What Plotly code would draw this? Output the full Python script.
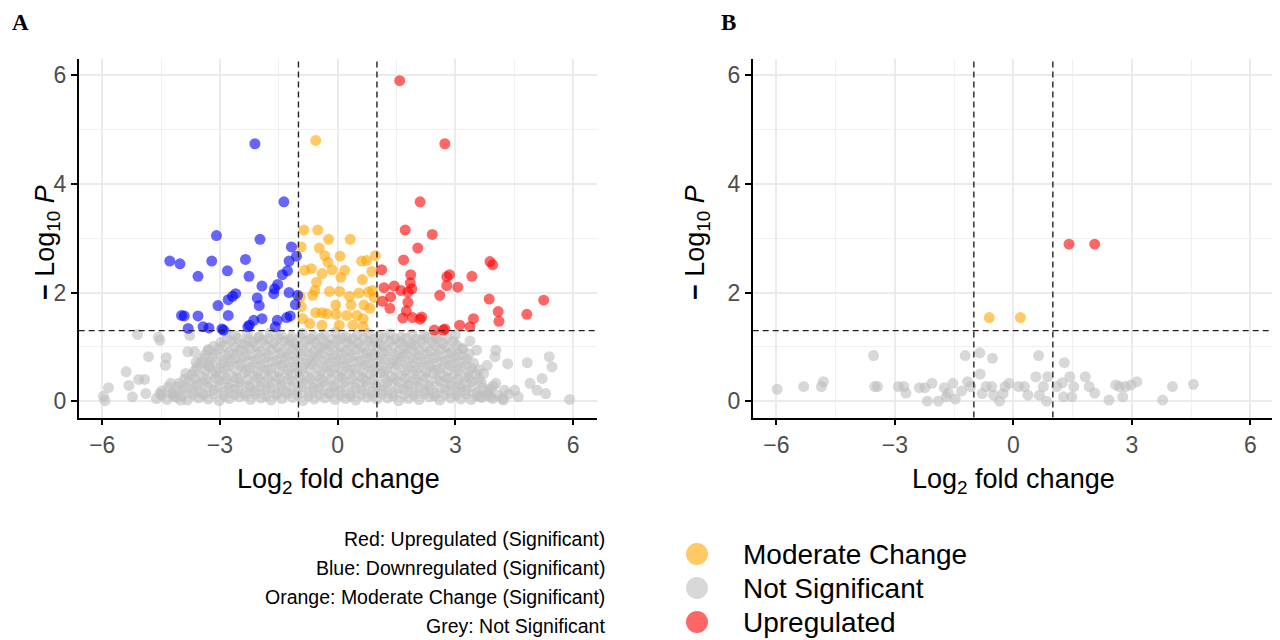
import plotly.graph_objects as go

# ---------------- Panel A data ----------------
a_up_x = [1.58, 2.73, 2.10, 1.72, 2.41, 2.04, 1.68, 1.12, 1.86, 2.85, 2.78, 3.42, 3.88, 3.95,
          1.18, 1.44, 1.61, 1.79, 1.89, 1.85, 2.78, 3.06, 2.60, 1.35, 1.14, 1.33, 1.79, 1.75,
          1.66, 1.91, 2.14, 2.10, 3.86, 5.25, 4.09, 4.11, 4.82, 3.46, 3.37, 3.11, 2.46, 2.73, 2.69]
a_up_y = [5.90, 4.74, 3.67, 3.15, 3.07, 2.82, 2.60, 2.42, 2.33, 2.33, 2.29, 2.30, 2.57, 2.51,
          2.09, 2.12, 2.04, 2.01, 2.07, 2.18, 2.13, 2.10, 1.95, 1.92, 1.84, 1.71, 1.82, 1.66,
          1.53, 1.54, 1.55, 1.51, 1.88, 1.86, 1.65, 1.47, 1.60, 1.52, 1.37, 1.40, 1.31, 1.33, 1.31]

a_down_x = [-2.11, -1.37, -3.09, -1.98, -4.28, -4.02, -3.21, -2.35, -3.56, -2.81, -2.26, -1.18,
            -1.05, -1.24, -1.28, -1.41, -1.53, -1.93, -1.61, -1.63, -2.60, -2.68, -2.79, -2.05,
            -2.00, -1.24, -1.02, -1.08, -3.05, -3.98, -3.91, -3.56, -2.79, -1.21, -1.30, -1.54,
            -1.93, -2.14, -2.25, -3.81, -3.43, -3.28, -2.95, -2.91, -2.29, -1.59]
a_down_y = [4.74, 3.67, 3.05, 2.98, 2.58, 2.53, 2.58, 2.61, 2.30, 2.40, 2.30, 2.84,
            2.67, 2.58, 2.40, 2.33, 2.15, 2.12, 2.07, 1.98, 1.98, 1.93, 1.87, 1.90,
            1.76, 2.00, 1.95, 1.78, 1.76, 1.58, 1.57, 1.57, 1.58, 1.57, 1.54, 1.49,
            1.52, 1.49, 1.40, 1.34, 1.37, 1.35, 1.33, 1.31, 1.37, 1.37]

a_mod_x = [-0.56, -0.86, -0.51, -0.23, 0.32, -0.93, -0.47, 0.06, -0.33, -0.25, 0.61, 0.74, 0.96,
           -0.84, -0.67, -0.40, -0.14, 0.18, 0.87, -0.54, 0.08, 0.63, -0.21, 0.05, -0.58, -0.95,
           -0.64, 0.54, 0.78, 0.89, 0.93, 0.30, -0.05, 0.34, 0.67, -0.93, -0.56, -0.40, -0.27,
           -0.04, 0.23, 0.49, 0.82, -0.89, 0.65, -0.71, 0.04, 0.39, 0.65, -0.40]
a_mod_y = [4.80, 3.15, 3.15, 2.98, 2.98, 2.84, 2.82, 2.67, 2.68, 2.56, 2.58, 2.59, 2.68,
           2.41, 2.44, 2.35, 2.42, 2.41, 2.39, 2.19, 2.28, 2.24, 2.02, 2.02, 2.04, 1.92,
           1.95, 1.99, 2.01, 2.04, 1.91, 1.93, 1.77, 1.77, 1.77, 1.74, 1.63, 1.63, 1.61,
           1.60, 1.58, 1.58, 1.71, 1.52, 1.52, 1.43, 1.40, 1.40, 1.37, 1.40]

a_ns_x = [
    -4.62, -4.35, -4.10, -3.83, -3.55, -3.30, -3.02, -2.76, -2.50, -2.22, -1.95, -1.70, -1.42,
    -1.15, -0.88, -0.60, -0.33, -0.07, 0.20, 0.46, 0.74, 1.00, 1.27, 1.55, 1.80, 2.07, 2.34,
    2.60, 2.88, 3.14, 3.40, 3.68, 3.95, 4.22,
    -4.49, -4.22, -3.96, -3.69, -3.42, -3.16, -2.89, -2.63, -2.36, -2.09, -1.83, -1.56, -1.29,
    -1.02, -0.74, -0.47, -0.20, 0.07, 0.33, 0.60, 0.87, 1.14, 1.41, 1.68, 1.94, 2.21, 2.47,
    2.74, 3.01, 3.27, 3.54, 3.81, 4.08, 4.35,
    -4.48, -4.20, -3.95, -3.70, -3.44, -3.16, -2.90, -2.63, -2.36, -2.10, -1.83, -1.56, -1.30,
    -1.02, -0.75, -0.48, -0.21, 0.06, 0.33, 0.60, 0.87, 1.14, 1.41, 1.68, 1.94, 2.21, 2.48,
    2.75, 3.02, 3.28, 3.55, 3.82,
    -4.32, -4.07, -3.82, -3.56, -3.30, -3.03, -2.77, -2.50, -2.23, -1.96, -1.70, -1.43, -1.16,
    -0.89, -0.62, -0.35, -0.08, 0.19, 0.46, 0.73, 1.00, 1.27, 1.54, 1.81, 2.08, 2.35, 2.61,
    2.88, 3.15, 3.42, 3.69, 3.96,
    -4.05, -3.80, -3.57, -3.30, -3.03, -2.77, -2.50, -2.24, -1.97, -1.70, -1.44, -1.16, -0.90,
    -0.62, -0.36, -0.10, 0.17, 0.44, 0.71, 0.98, 1.25, 1.52, 1.79, 2.05, 2.32, 2.60, 2.86,
    3.13, 3.40, 3.66,
    -3.90, -3.64, -3.37, -3.10, -2.84, -2.57, -2.30, -2.04, -1.77, -1.50, -1.24, -0.97, -0.70,
    -0.43, -0.17, 0.10, 0.37, 0.64, 0.91, 1.18, 1.45, 1.72, 1.98, 2.25, 2.52, 2.79, 3.06,
    3.33, 3.60,
    -3.72, -3.45, -3.18, -2.92, -2.65, -2.38, -2.12, -1.85, -1.58, -1.32, -1.05, -0.78, -0.51,
    -0.24, 0.03, 0.30, 0.57, 0.84, 1.10, 1.37, 1.64, 1.91, 2.18, 2.44, 2.71, 2.98, 3.25, 3.52,
    -3.65, -3.38, -3.11, -2.85, -2.58, -2.31, -2.05, -1.78, -1.51, -1.25, -0.98, -0.71, -0.44,
    -0.17, 0.10, 0.37, 0.64, 0.91, 1.18, 1.45, 1.72, 1.99, 2.26, 2.53, 2.80, 3.07, 3.34, 3.60,
    -3.58, -3.30, -3.04, -2.78, -2.50, -2.24, -1.97, -1.70, -1.43, -1.17, -0.90, -0.63, -0.36,
    -0.09, 0.18, 0.45, 0.72, 0.98, 1.25, 1.52, 1.79, 2.06, 2.33, 2.60, 2.86, 3.13, 3.40,
    -3.50, -3.24, -2.97, -2.71, -2.44, -2.17, -1.90, -1.64, -1.37, -1.10, -0.83, -0.56, -0.29,
    -0.02, 0.25, 0.52, 0.79, 1.06, 1.33, 1.60, 1.86, 2.13, 2.40, 2.67, 2.94, 3.20, 3.46,
    -3.45, -3.18, -2.90, -2.63, -2.37, -2.10, -1.83, -1.56, -1.30, -1.03, -0.76, -0.49, -0.22,
    0.05, 0.32, 0.59, 0.86, 1.13, 1.40, 1.67, 1.93, 2.20, 2.47, 2.74, 3.01, 3.28,
    -3.38, -3.10, -2.83, -2.56, -2.30, -2.03, -1.76, -1.49, -1.22, -0.95, -0.68, -0.41, -0.14,
    0.13, 0.40, 0.67, 0.94, 1.20, 1.47, 1.74, 2.01, 2.28, 2.55, 2.82, 3.09, 3.35,
    -3.30, -3.03, -2.76, -2.50, -2.23, -1.96, -1.69, -1.42, -1.15, -0.88, -0.61, -0.34, -0.07,
    0.20, 0.47, 0.74, 1.00, 1.27, 1.54, 1.81, 2.08, 2.35, 2.62, 2.89, 3.16,
    -3.16, -2.90, -2.63, -2.36, -2.09, -1.82, -1.55, -1.28, -1.02, -0.75, -0.48, -0.21, 0.06,
    0.33, 0.60, 0.87, 1.14, 1.41, 1.68, 1.95, 2.22, 2.48, 2.75, 3.03,
    -2.98, -2.70, -2.43, -2.16, -1.90, -1.63, -1.36, -1.09, -0.82, -0.55, -0.28, -0.01, 0.26,
    0.53, 0.80, 1.07, 1.34, 1.60, 1.87, 2.14, 2.41, 2.68, 2.95,
    -2.82, -2.55, -2.28, -2.02, -1.76, -1.50, -1.22, -0.95, -0.68, -0.42, -0.15, 0.12, 0.39,
    0.66, 0.93, 1.20, 1.47, 1.74, 2.00, 2.28, 2.55, 2.80,
    -2.62, -2.30, -2.00, -1.72, -1.45, -1.18, -0.90, -0.62, -0.35, -0.06, 0.22, 0.50, 0.78,
    1.05, 1.33, 1.62, 1.90, 2.20, 2.50,
    -5.97, -5.93, -5.84, -5.39, -5.32, -5.23, -5.07, -4.92, -4.89, -4.82, -4.53, -4.39, -4.37,
    -4.53, -4.57, -5.10, -4.26, -4.18, -4.00, -3.87, -3.82, -3.77, -3.65, -3.61, -3.30, -3.28,
    3.37, 4.03, 4.01, 4.33, 4.03, 4.25, 4.51, 4.60, 4.83, 4.90, 5.08, 5.21, 5.30, 5.39, 5.46,
    5.91, 3.89, 3.81, 3.72, 3.63, 4.20, 3.54, 3.89, 3.19, -2.85, 3.00]
a_ns_y = [
    0.05, 0.03, 0.07, 0.02, 0.06, 0.04, 0.01, 0.05, 0.08, 0.03, 0.06, 0.02, 0.05,
    0.07, 0.01, 0.04, 0.06, 0.03, 0.05, 0.02, 0.07, 0.04, 0.06, 0.01, 0.05, 0.03, 0.08,
    0.02, 0.06, 0.04, 0.03, 0.07, 0.05, 0.02,
    0.11, 0.13, 0.10, 0.12, 0.11, 0.13, 0.10, 0.12, 0.11, 0.13, 0.10, 0.12, 0.13,
    0.11, 0.10, 0.12, 0.13, 0.11, 0.10, 0.12, 0.11, 0.13, 0.10, 0.12, 0.11, 0.13, 0.10,
    0.12, 0.11, 0.13, 0.10, 0.12, 0.11, 0.13,
    0.19, 0.16, 0.21, 0.18, 0.15, 0.20, 0.17, 0.22, 0.16, 0.19, 0.21, 0.15, 0.18,
    0.20, 0.17, 0.22, 0.16, 0.19, 0.15, 0.21, 0.18, 0.20, 0.16, 0.22, 0.17, 0.19, 0.15,
    0.21, 0.18, 0.20, 0.16, 0.19,
    0.26, 0.27, 0.25, 0.28, 0.26, 0.27, 0.25, 0.28, 0.26, 0.27, 0.25, 0.28, 0.26,
    0.27, 0.25, 0.28, 0.26, 0.27, 0.25, 0.28, 0.26, 0.27, 0.25, 0.28, 0.26, 0.27, 0.25,
    0.28, 0.26, 0.27, 0.25, 0.28,
    0.33, 0.36, 0.31, 0.34, 0.37, 0.32, 0.35, 0.30, 0.36, 0.33, 0.31, 0.37, 0.34,
    0.32, 0.36, 0.30, 0.35, 0.33, 0.37, 0.31, 0.34, 0.36, 0.32, 0.35, 0.30, 0.37, 0.33,
    0.31, 0.36, 0.34,
    0.41, 0.42, 0.40, 0.43, 0.41, 0.42, 0.40, 0.43, 0.41, 0.42, 0.40, 0.43, 0.41,
    0.42, 0.40, 0.43, 0.41, 0.42, 0.40, 0.43, 0.41, 0.42, 0.40, 0.43, 0.41, 0.42, 0.40,
    0.43, 0.41,
    0.49, 0.46, 0.51, 0.48, 0.45, 0.52, 0.47, 0.50, 0.46, 0.49, 0.52, 0.45, 0.48,
    0.51, 0.47, 0.50, 0.46, 0.49, 0.52, 0.45, 0.48, 0.50, 0.47, 0.51, 0.46, 0.49, 0.45, 0.50,
    0.56, 0.57, 0.55, 0.58, 0.56, 0.57, 0.55, 0.58, 0.56, 0.57, 0.55, 0.58, 0.56,
    0.57, 0.55, 0.58, 0.56, 0.57, 0.55, 0.58, 0.56, 0.57, 0.55, 0.58, 0.56, 0.57, 0.55, 0.58,
    0.63, 0.66, 0.61, 0.64, 0.67, 0.62, 0.65, 0.60, 0.66, 0.63, 0.61, 0.67, 0.64,
    0.62, 0.65, 0.60, 0.66, 0.63, 0.61, 0.67, 0.64, 0.62, 0.65, 0.60, 0.66, 0.63, 0.61,
    0.71, 0.72, 0.70, 0.73, 0.71, 0.72, 0.70, 0.73, 0.71, 0.72, 0.70, 0.73, 0.71,
    0.72, 0.70, 0.73, 0.71, 0.72, 0.70, 0.73, 0.71, 0.72, 0.70, 0.73, 0.71, 0.72, 0.70,
    0.78, 0.81, 0.76, 0.79, 0.82, 0.77, 0.80, 0.75, 0.81, 0.78, 0.76, 0.82, 0.79,
    0.77, 0.80, 0.75, 0.81, 0.78, 0.76, 0.82, 0.79, 0.77, 0.80, 0.75, 0.81, 0.78,
    0.86, 0.87, 0.85, 0.88, 0.86, 0.87, 0.85, 0.88, 0.86, 0.87, 0.85, 0.88, 0.86,
    0.87, 0.85, 0.88, 0.86, 0.87, 0.85, 0.88, 0.86, 0.87, 0.85, 0.88, 0.86, 0.87,
    0.93, 0.96, 0.91, 0.94, 0.97, 0.92, 0.95, 0.90, 0.96, 0.93, 0.91, 0.97, 0.94,
    0.92, 0.95, 0.90, 0.96, 0.93, 0.91, 0.97, 0.94, 0.92, 0.95, 0.90, 0.96,
    1.01, 1.02, 1.00, 1.03, 1.01, 1.02, 1.00, 1.03, 1.01, 1.02, 1.00, 1.03, 1.01,
    1.02, 1.00, 1.03, 1.01, 1.02, 1.00, 1.03, 1.01, 1.02, 1.00, 1.03,
    1.08, 1.11, 1.06, 1.09, 1.12, 1.07, 1.10, 1.05, 1.11, 1.08, 1.06, 1.12, 1.09,
    1.07, 1.10, 1.05, 1.11, 1.08, 1.06, 1.12, 1.09, 1.07, 1.10,
    1.15, 1.16, 1.14, 1.17, 1.15, 1.16, 1.14, 1.17, 1.15, 1.16, 1.14, 1.17, 1.15,
    1.16, 1.14, 1.17, 1.15, 1.16, 1.14, 1.17, 1.15, 1.16,
    1.21, 1.24, 1.19, 1.26, 1.22, 1.18, 1.25, 1.20, 1.23, 1.27, 1.19, 1.22, 1.25,
    1.20, 1.24, 1.18, 1.23, 1.21, 1.19,
    0.09, 0.01, 0.25, 0.54, 0.29, 0.08, 0.40, 0.40, 0.14, 0.82, 0.14, 0.66, 0.80,
    1.12, 1.18, 1.23, 0.33, 0.09, 0.02, 0.51, 0.91, 1.21, 0.91, 0.72, 0.95, 0.64,
    1.11, 0.94, 0.82, 0.69, 0.33, 0.20, 0.20, 0.08, 0.71, 0.33, 0.20, 0.42, 0.14, 0.82, 0.63,
    0.03, 0.23, 0.66, 0.51, 0.08, 0.05, 0.94, 0.08, 0.97, 1.27, 1.22]

# ---------------- Panel B data ----------------
b_up_x = [1.41, 2.06]
b_up_y = [2.89, 2.89]
b_mod_x = [-0.61, 0.18]
b_mod_y = [1.54, 1.54]
b_ns_x = [-5.98, -5.31, -4.86, -4.81, -3.54, -3.51, -3.44, -2.91, -2.77, -2.72, -2.38, -2.24,
          -2.06, -2.18, -1.90, -1.75, -1.70, -1.65, -1.53, -1.47, -1.31, -1.22, -1.16, -1.08,
          -0.85, -0.84, -0.79, -0.69, -0.53, -0.55, -0.50, -0.35, -0.26, -0.21, -0.11, 0.13,
          0.28, 0.37, 0.57, 0.64, 0.66, 0.76, 0.84, 0.87, 1.10, 1.24, 1.29, 1.27, 1.43, 1.48,
          1.53, 1.82, 1.92, 2.06, 2.42, 2.59, 2.69, 2.77, 2.84, 2.98, 3.13, 3.78, 4.03, 4.56]
b_ns_y = [0.22, 0.27, 0.27, 0.36, 0.84, 0.27, 0.27, 0.27, 0.27, 0.15, 0.25, 0.25,
          0.33, 0.00, 0.00, 0.25, 0.08, 0.15, 0.33, 0.04, 0.19, 0.84, 0.36, 0.27,
          0.89, 0.50, 0.14, 0.27, 0.79, 0.27, 0.11, 0.00, 0.14, 0.27, 0.33, 0.27,
          0.27, 0.11, 0.45, 0.84, 0.11, 0.27, 0.00, 0.45, 0.27, 0.34, 0.71, 0.08, 0.45, 0.08,
          0.27, 0.45, 0.27, 0.15, 0.02, 0.30, 0.27, 0.08, 0.27, 0.30, 0.36, 0.02, 0.27, 0.31]

# ---------------- axes / labels ----------------
x_ticks = [-6, -3, 0, 3, 6]
y_ticks = [0, 2, 4, 6]
x_range = [-6.6, 6.6]
y_range = [-0.3, 6.3]
fc_cut = 1.0
p_cut = 1.3
panel_labels = ["A", "B"]
note_lines = ["Red: Upregulated (Significant)",
              "Blue: Downregulated (Significant)",
              "Orange: Moderate Change (Significant)",
              "Grey: Not Significant"]
legend_names = ["Moderate Change", "Not Significant", "Upregulated"]

RED, BLUE, ORANGE, GREY = "#FF0000", "#0000FF", "#FFA500", "#BEBEBE"
legend_colors = [ORANGE, GREY, RED]

# the page body adds an 8px margin, so the figure is placed 8px in from the top-left
OFF = 8
FW, FH = 1280 - OFF, 640 - OFF
def px_x(p): return (p - OFF) / FW
def px_y(p): return 1 - (p - OFF) / FH

fig = go.Figure()

def pts(x, y, color, xa, ya, name):
    fig.add_trace(go.Scatter(
        x=x, y=y, mode="markers", name=name, xaxis=xa, yaxis=ya,
        marker=dict(color=color, size=11, opacity=0.6, line=dict(width=0)),
        showlegend=False, hoverinfo="skip"))

pts(a_ns_x, a_ns_y, GREY, "x", "y", "Not Significant")
pts(a_mod_x, a_mod_y, ORANGE, "x", "y", "Moderate Change")
pts(a_down_x, a_down_y, BLUE, "x", "y", "Downregulated")
pts(a_up_x, a_up_y, RED, "x", "y", "Upregulated")
pts(b_ns_x, b_ns_y, GREY, "x2", "y2", "Not Significant")
pts(b_mod_x, b_mod_y, ORANGE, "x2", "y2", "Moderate Change")
pts(b_up_x, b_up_y, RED, "x2", "y2", "Upregulated")

def mid(v):
    return [(a + b) / 2 for a, b in zip(v[:-1], v[1:])]

tickfont = dict(family="Liberation Sans, Arial, sans-serif", size=23, color="#4D4D4D")
common_x = dict(range=x_range, tickvals=x_ticks, ticks="outside", ticklen=6, tickwidth=1.6,
                tickcolor="black", showline=True, linecolor="black", linewidth=1.8,
                showgrid=True, gridcolor="#EBEBEB", gridwidth=2, zeroline=False,
                tickfont=tickfont,
                minor=dict(tickvals=mid(x_ticks), showgrid=True, gridcolor="#F0F0F0",
                           gridwidth=1, ticks=""))
common_y = dict(range=y_range, tickvals=y_ticks, ticks="outside", ticklen=6, tickwidth=1.6,
                tickcolor="black", showline=True, linecolor="black", linewidth=1.8,
                showgrid=True, gridcolor="#EBEBEB", gridwidth=2, zeroline=False,
                tickfont=tickfont, domain=[px_y(417.5), px_y(59)],
                minor=dict(tickvals=mid(y_ticks), showgrid=True, gridcolor="#F0F0F0",
                           gridwidth=1, ticks=""))

fig.update_layout(
    width=FW, height=FH, margin=dict(l=0, r=0, t=0, b=0),
    paper_bgcolor="white", plot_bgcolor="white", showlegend=False,
    xaxis=dict(common_x, domain=[px_x(78.7), px_x(596.7)], anchor="y"),
    yaxis=dict(common_y, anchor="x"),
    xaxis2=dict(common_x, domain=[px_x(752.7), px_x(1274)], anchor="y2"),
    yaxis2=dict(common_y, anchor="x2"),
)

shapes = []
for xa, ya in [("x", "y"), ("x2", "y2")]:
    for v in (-fc_cut, fc_cut):
        shapes.append(dict(type="line", xref=xa, yref=ya + " domain", x0=v, x1=v, y0=0, y1=1,
                           line=dict(color="#222222", width=1.4, dash="6px,4px"), layer="above"))
    shapes.append(dict(type="line", xref=xa + " domain", yref=ya, x0=0, x1=1, y0=p_cut, y1=p_cut,
                       line=dict(color="#222222", width=1.4, dash="6px,4px"), layer="above"))

# legend swatches for panel B categories
leg_y = [554, 588, 622]
for c, yy in zip(legend_colors, leg_y):
    shapes.append(dict(type="circle", xref="paper", yref="paper",
                       x0=px_x(686), x1=px_x(708), y0=px_y(yy + 11), y1=px_y(yy - 11),
                       fillcolor=c, opacity=0.6, line=dict(width=0)))

annotations = []
title_font = dict(family="Liberation Sans, Arial, sans-serif", size=27, color="black")
for cx in (338, 1013):
    annotations.append(dict(text="Log<sub>2</sub> fold change", xref="paper", yref="paper",
                            x=px_x(cx), y=px_y(481), xanchor="center", yanchor="middle",
                            showarrow=False, font=title_font))
for cx in (47, 697):
    annotations.append(dict(text="<b>−</b> Log<sub>10</sub> <i>P</i>", xref="paper", yref="paper",
                            x=px_x(cx), y=px_y(243), xanchor="center", yanchor="middle",
                            textangle=-90, showarrow=False, font=title_font))
for lab, cx in zip(panel_labels, (20, 728)):
    annotations.append(dict(text="<b>%s</b>" % lab, xref="paper", yref="paper",
                            x=px_x(cx), y=px_y(22), xanchor="center", yanchor="middle",
                            showarrow=False, borderpad=0,
                            font=dict(family="Liberation Serif, Times New Roman, serif",
                                      size=23, color="black")))
for line, yy in zip(note_lines, [539, 568, 597, 626]):
    annotations.append(dict(text=line, xref="paper", yref="paper", x=px_x(607), y=px_y(yy),
                            xanchor="right", yanchor="middle", showarrow=False,
                            font=dict(family="Liberation Sans, Arial, sans-serif",
                                      size=19.5, color="black")))
for name, yy in zip(legend_names, leg_y):
    annotations.append(dict(text=name, xref="paper", yref="paper", x=px_x(741), y=px_y(yy),
                            xanchor="left", yanchor="middle", showarrow=False,
                            font=dict(family="Liberation Sans, Arial, sans-serif", size=28,
                                      color="black")))

fig.update_layout(shapes=shapes, annotations=annotations)
fig.write_html("out.html")
